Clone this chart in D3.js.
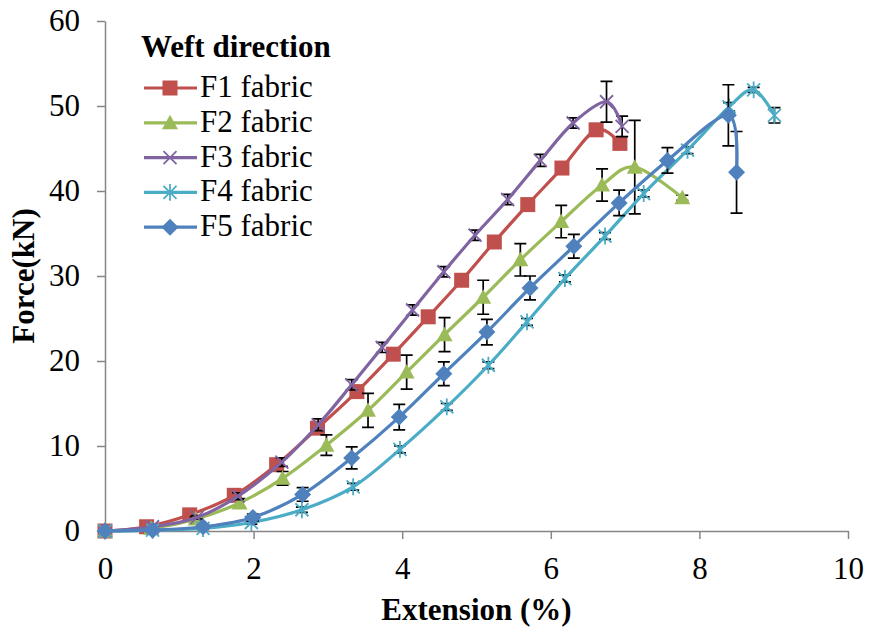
<!DOCTYPE html>
<html>
<head>
<meta charset="utf-8">
<script src="https://cdn.jsdelivr.net/npm/d3@7/dist/d3.min.js"></script>
<style>
  body { margin: 0; background: #fff; }
  svg { display: block; }
</style>
</head>
<body>
<svg id="chart" width="870" height="632"></svg>
<script>
// Tensile test: force vs. extension, weft direction
const xTicks = [0, 2, 4, 6, 8, 10];
const yTicks = [0, 10, 20, 30, 40, 50, 60];
const seriesNames = ["F1 fabric", "F2 fabric", "F3 fabric", "F4 fabric", "F5 fabric"];
const legendTitle = "Weft direction";

// Extension (%) / force (kN) / standard deviation (kN) per fabric
const f1Ext   = [0, 0.56, 1.14, 1.74, 2.31, 2.86, 3.39, 3.88, 4.35, 4.80, 5.24, 5.69, 6.15, 6.61, 6.93];
const f1Force = [0, 0.5, 1.9, 4.2, 7.8, 12.1, 16.4, 20.8, 25.2, 29.5, 34.0, 38.4, 42.7, 47.2, 45.6];
const f1Err   = [0, 0, 0, 0, 0, 0, 0, 0, 0, 0, 0, 0, 0, 0, 0];

const f2Ext   = [0, 0.62, 1.22, 1.81, 2.39, 2.98, 3.54, 4.06, 4.57, 5.09, 5.59, 6.14, 6.69, 7.13, 7.77];
const f2Force = [0, 0.3, 1.4, 3.3, 6.2, 10.1, 14.2, 18.7, 23.1, 27.5, 31.9, 36.4, 40.7, 42.8, 39.2];
const f2Err   = [0, 0, 0.3, 0.5, 0.8, 1.2, 2.0, 2.0, 2.0, 2.0, 1.9, 1.9, 1.9, 5.5, 0.3];

const f3Ext   = [0, 0.64, 1.24, 1.79, 2.38, 2.87, 3.32, 3.73, 4.14, 4.56, 4.98, 5.42, 5.86, 6.30, 6.75, 6.96];
const f3Force = [0, 0.5, 1.6, 4.1, 8.1, 12.5, 17.2, 21.6, 26.0, 30.5, 34.8, 39.0, 43.6, 48.0, 50.5, 47.6];
const f3Err   = [0, 0, 0.2, 0.4, 0.5, 0.7, 0.6, 0.6, 0.6, 0.6, 0.6, 0.6, 0.7, 0.6, 2.4, 1.2];

const f4Ext   = [0, 0.64, 1.32, 1.97, 2.65, 3.34, 3.97, 4.60, 5.16, 5.68, 6.19, 6.73, 7.25, 7.84, 8.40, 8.73, 9.01];
const f4Force = [0, 0.1, 0.3, 1.0, 2.5, 5.2, 9.6, 14.6, 19.5, 24.6, 29.7, 34.7, 39.7, 44.8, 49.9, 51.9, 48.9];
const f4Err   = [0, 0, 0.1, 0.2, 0.3, 0.4, 0.4, 0.4, 0.4, 0.4, 0.4, 0.4, 0.4, 0.4, 0.5, 0.3, 0.9];

const f5Ext   = [0, 0.64, 1.32, 1.99, 2.66, 3.32, 3.96, 4.56, 5.14, 5.72, 6.31, 6.92, 7.57, 8.39, 8.50];
const f5Force = [0, 0.1, 0.5, 1.6, 4.3, 8.6, 13.4, 18.5, 23.4, 28.6, 33.5, 38.6, 43.6, 48.9, 42.2];
const f5Err   = [0, 0, 0.2, 0.4, 0.8, 1.3, 1.5, 1.4, 1.5, 1.4, 1.4, 1.5, 1.5, 3.6, 4.8];

const colors  = ["#C0504D", "#9BBB59", "#8064A2", "#4BACC6", "#4F81BD"];
const markers = ["square", "triangle", "cross", "star", "diamond"];

const toPoints = (xs, ys, es) => xs.map((x, i) => ({ x, y: ys[i], e: es[i] }));
const series = [
  toPoints(f1Ext, f1Force, f1Err),
  toPoints(f2Ext, f2Force, f2Err),
  toPoints(f3Ext, f3Force, f3Err),
  toPoints(f4Ext, f4Force, f4Err),
  toPoints(f5Ext, f5Force, f5Err)
].map((pts, i) => ({ name: seriesNames[i], color: colors[i], marker: markers[i], pts }));

const FONT = "'Liberation Serif', 'Times New Roman', serif";
const FS = 31;
const svg = d3.select("#chart");

const x = d3.scaleLinear().domain([0, 10]).range([105, 848]);
const y = d3.scaleLinear().domain([0, 60]).range([531, 21]);

// Axes
const yAxis = svg.append("g")
  .attr("transform", `translate(${x(0)},0)`)
  .call(d3.axisLeft(y).tickValues(yTicks).tickSize(8).tickPadding(17).tickSizeOuter(0));
const xAxis = svg.append("g")
  .attr("transform", `translate(0,${y(0)})`)
  .call(d3.axisBottom(x).tickValues(xTicks).tickSize(8).tickPadding(18).tickSizeOuter(0));

[xAxis, yAxis].forEach(g => {
  g.attr("font-family", FONT).attr("font-size", FS);
  g.select(".domain").attr("stroke", "#868686").attr("stroke-width", 1.5);
  g.selectAll(".tick line").attr("stroke", "#868686").attr("stroke-width", 1.5);
  g.selectAll(".tick text").attr("fill", "#000");
});

// Axis titles
svg.append("text")
  .attr("x", (x(0) + x(10)) / 2).attr("y", 620)
  .attr("text-anchor", "middle")
  .attr("font-family", FONT).attr("font-size", FS).attr("font-weight", "bold")
  .text("Extension (%)");

svg.append("text")
  .attr("transform", `translate(34,${(y(0) + y(60)) / 2}) rotate(-90)`)
  .attr("text-anchor", "middle")
  .attr("font-family", FONT).attr("font-size", FS).attr("font-weight", "bold")
  .text("Force(kN)");

// Marker shapes
function drawMarker(g, type, color, cx, cy) {
  if (type === "square") {
    const h = 7.5;
    g.append("rect").attr("x", cx - h).attr("y", cy - h).attr("width", 2 * h).attr("height", 2 * h)
      .attr("fill", color);
  } else if (type === "triangle") {
    g.append("path")
      .attr("d", `M${cx},${cy - 8}L${cx + 8},${cy + 6.5}L${cx - 8},${cy + 6.5}Z`)
      .attr("fill", color);
  } else if (type === "diamond") {
    const r = 8.5;
    g.append("path")
      .attr("d", `M${cx},${cy - r}L${cx + r},${cy}L${cx},${cy + r}L${cx - r},${cy}Z`)
      .attr("fill", color);
  } else if (type === "cross") {
    const h = 6.5;
    g.append("path")
      .attr("d", `M${cx - h},${cy - h}L${cx + h},${cy + h}M${cx - h},${cy + h}L${cx + h},${cy - h}`)
      .attr("stroke", color).attr("stroke-width", 1.8).attr("fill", "none");
  } else if (type === "star") {
    const h = 6.5;
    g.append("path")
      .attr("d", `M${cx - h},${cy - h}L${cx + h},${cy + h}M${cx - h},${cy + h}L${cx + h},${cy - h}M${cx},${cy - h * 1.3}L${cx},${cy + h * 1.3}`)
      .attr("stroke", color).attr("stroke-width", 1.8).attr("fill", "none");
  }
}

const line = d3.line()
  .x(d => x(d.x)).y(d => y(d.y))
  .curve(d3.curveCatmullRom.alpha(0));

const plot = svg.append("g");
series.forEach(s => {
  const g = plot.append("g");
  // error bars (± one standard deviation)
  s.pts.filter(d => d.e > 0).forEach(d => {
    const px = x(d.x), top = y(d.y + d.e), bot = y(d.y - d.e);
    g.append("path")
      .attr("d", `M${px},${top}L${px},${bot}M${px - 6},${top}L${px + 6},${top}M${px - 6},${bot}L${px + 6},${bot}`)
      .attr("stroke", "#000").attr("stroke-width", 1.7).attr("fill", "none");
  });
  g.append("path")
    .datum(s.pts)
    .attr("d", line)
    .attr("fill", "none")
    .attr("stroke", s.color)
    .attr("stroke-width", 3.2)
    .attr("stroke-linejoin", "round");
  s.pts.forEach(d => drawMarker(g, s.marker, s.color, x(d.x), y(d.y)));
});

// Legend
const legend = svg.append("g");
legend.append("text")
  .attr("x", 141).attr("y", 57)
  .attr("font-family", FONT).attr("font-size", FS).attr("font-weight", "bold")
  .text(legendTitle);
series.forEach((s, i) => {
  const base = 97 + i * 34.8;
  const ly = base - 9;
  legend.append("line")
    .attr("x1", 144).attr("x2", 197).attr("y1", ly).attr("y2", ly)
    .attr("stroke", s.color).attr("stroke-width", 3.2);
  drawMarker(legend, s.marker, s.color, 170, ly);
  legend.append("text")
    .attr("x", 200).attr("y", base)
    .attr("font-family", FONT).attr("font-size", FS)
    .text(s.name);
});
</script>
</body>
</html>
